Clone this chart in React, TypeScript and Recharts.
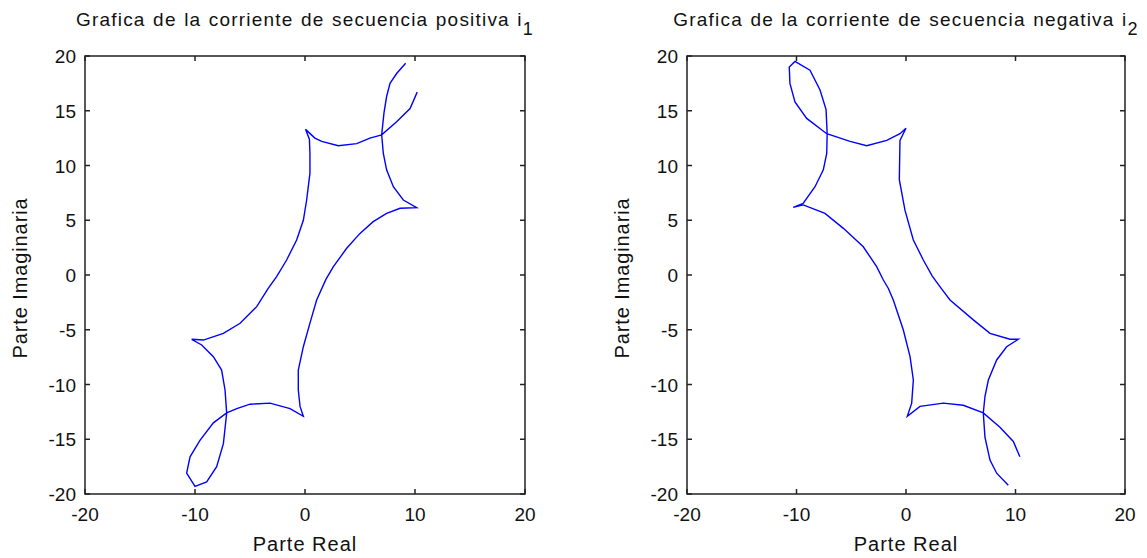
import { LineChart, Line, XAxis, YAxis, ReferenceArea } from 'recharts';

const xTicks = [-20, -10, 0, 10, 20];
const yTicks = [-20, -15, -10, -5, 0, 5, 10, 15, 20];

// secuencia positiva i1 (parte real / parte imaginaria)
const i1Real = [
  9.15, 8.33, 7.73, 7.42, 7.18, 6.97, 7.12, 7.42, 8.03, 8.94, 10.15, 8.64, 7.42, 6.2, 5.0, 3.79, 2.58, 1.9,
  1.06, 0.45, -0.15, -0.61, -0.61, -0.45, -0.15, -1.36, -3.18, -5.0, -6.2, -7.12, -8.33, -9.55, -10.45,
  -10.76, -10.0, -8.94, -8.03, -7.42, -7.12, -7.27, -7.58, -8.33, -9.39, -10.3, -9.24, -7.42, -5.9, -4.39,
  -3.33, -2.58, -1.67, -0.76, -0.15, 0.15, 0.45, 0.45, 0.4, 0.05, 0.9, 1.52, 3.03, 4.7, 5.9, 6.97, 8.33,
  9.55, 10.2,
];
const i1Imag = [
  19.33, 18.4, 17.5, 16.3, 14.8, 12.8, 11.1, 9.6, 8.06, 6.85, 6.15, 6.09, 5.63, 4.87, 3.8, 2.44, 0.76, -0.4,
  -2.28, -4.4, -6.55, -8.68, -10.5, -12.0, -12.9, -12.2, -11.7, -11.8, -12.2, -12.6, -13.5, -15.1, -16.6,
  -18.1, -19.3, -18.9, -17.5, -15.4, -12.6, -10.5, -8.68, -7.46, -6.39, -5.87, -5.94, -5.33, -4.41, -2.89,
  -1.2, -0.15, 1.37, 3.2, 5.0, 6.85, 9.3, 11.1, 12.4, 13.3, 12.5, 12.2, 11.8, 12.0, 12.5, 12.8, 14.0,
  15.2, 16.7,
];

// secuencia negativa i2
const i2Real = [
  9.34, 8.28, 7.67, 7.21, 7.06, 7.21, 7.52, 8.28, 9.19, 10.26, 9.5, 7.67, 6.15, 4.02, 3.2, 2.4, 1.58, 0.67,
  -0.09, -0.61, -0.55, 0.0, -0.55, -1.76, -3.59, -5.11, -7.24, -9.07, -10.14, -10.6, -10.66, -10.14, -8.77,
  -7.85, -7.3, -7.2, -7.24, -7.55, -8.31, -9.38, -10.3, -9.38, -7.4, -5.72, -3.9, -2.68, -2.07, -1.62,
  -1.16, -0.25, 0.37, 0.67, 0.52, 0.12, 1.28, 3.41, 5.23, 7.06, 8.58, 9.8, 10.4,
];
const i2Imag = [
  -19.2, -18.1, -16.9, -14.8, -12.6, -11.1, -9.59, -7.76, -6.55, -5.87, -5.87, -5.33, -4.1, -2.28, -1.2,
  -0.1, 1.37, 3.2, 5.9, 8.7, 12.3, 13.4, 12.9, 12.3, 11.8, 12.2, 12.9, 14.3, 15.8, 17.5, 19.0, 19.5, 18.7,
  16.9, 15.1, 12.9, 11.1, 9.6, 8.06, 6.55, 6.18, 6.4, 5.63, 4.26, 2.58, 0.76, -0.46, -1.21, -2.28, -5.0,
  -7.46, -9.59, -11.7, -12.9, -12.0, -11.7, -11.9, -12.6, -13.9, -15.2, -16.6,
];

const FONT = 'Arial, "Liberation Sans", Helvetica, sans-serif';
const CH_W = 560;
const CH_H = 558;
const TOP = 56;
const BOTTOM = 494;
const Y_AXIS_W = 45;
const X_AXIS_H = 30;

function toPoints(re: number[], im: number[]) {
  return re.map((x, i) => ({ x, y: im[i] }));
}

interface PanelProps {
  left: number;
  marginLeft: number;
  marginRight: number;
  title: string;
  sub: string;
  re: number[];
  im: number[];
}

function Panel({ left, marginLeft, marginRight, title, sub, re, im }: PanelProps) {
  const plotLeft = marginLeft + Y_AXIS_W;
  const plotRight = CH_W - marginRight;
  const centerX = (plotLeft + plotRight) / 2;
  const data = toPoints(re, im);

  // MATLAB style: ticks point inwards, on both sides of the box
  const XTick = ({ x, payload }: any) => (
    <g>
      <line x1={x} x2={x} y1={BOTTOM} y2={BOTTOM - 5} stroke="#222" strokeWidth={1.5} />
      <line x1={x} x2={x} y1={TOP} y2={TOP + 5} stroke="#222" strokeWidth={1.5} />
      <text x={x} y={521} textAnchor="middle" fontSize={19} fontFamily={FONT} fill="#111">
        {payload.value}
      </text>
    </g>
  );

  const YTick = ({ y, payload }: any) => (
    <g>
      <line x1={plotLeft} x2={plotLeft + 5} y1={y} y2={y} stroke="#222" strokeWidth={1.5} />
      <line x1={plotRight} x2={plotRight - 5} y1={y} y2={y} stroke="#222" strokeWidth={1.5} />
      <text x={plotLeft - 9} y={y + 7} textAnchor="end" fontSize={19} fontFamily={FONT} fill="#111">
        {payload.value}
      </text>
    </g>
  );

  return (
    <div style={{ position: 'absolute', left, top: 0, width: CH_W, height: CH_H }}>
      <LineChart
        width={CH_W}
        height={CH_H}
        data={data}
        margin={{ top: TOP, right: marginRight, left: marginLeft, bottom: CH_H - BOTTOM - X_AXIS_H }}
      >
        <XAxis
          dataKey="x"
          type="number"
          domain={[-20, 20]}
          ticks={xTicks}
          tick={<XTick />}
          axisLine={false}
          tickLine={false}
          height={X_AXIS_H}
        />
        <YAxis
          type="number"
          domain={[-20, 20]}
          ticks={yTicks}
          tick={<YTick />}
          axisLine={false}
          tickLine={false}
          width={Y_AXIS_W}
        />
        <ReferenceArea x1={-20} x2={20} y1={-20} y2={20} fill="none" stroke="#222" strokeWidth={1.5} />
        <Line
          dataKey="y"
          type="linear"
          stroke="#0000ff"
          strokeWidth={1.4}
          dot={false}
          activeDot={false}
          isAnimationActive={false}
        />
      </LineChart>

      <div
        style={{
          position: 'absolute',
          top: 10,
          left: centerX,
          transform: 'translateX(-50%)',
          whiteSpace: 'nowrap',
          fontFamily: FONT,
          fontSize: 19,
          lineHeight: '19px',
          letterSpacing: 1.2,
          wordSpacing: 1,
          color: '#111',
        }}
      >
        {title}
        <span style={{ position: 'relative', top: 9, fontSize: 18 }}>{sub}</span>
      </div>

      <div
        style={{
          position: 'absolute',
          top: 534,
          left: centerX,
          transform: 'translateX(-50%)',
          whiteSpace: 'nowrap',
          fontFamily: FONT,
          fontSize: 20,
          lineHeight: '20px',
          letterSpacing: 1,
          color: '#111',
        }}
      >
        Parte Real
      </div>

      <div
        style={{
          position: 'absolute',
          top: (TOP + BOTTOM) / 2 + 3,
          left: plotLeft - 65,
          transform: 'translate(-50%, -50%) rotate(-90deg)',
          whiteSpace: 'nowrap',
          fontFamily: FONT,
          fontSize: 20,
          lineHeight: '20px',
          letterSpacing: 0.9,
          color: '#111',
        }}
      >
        Parte Imaginaria
      </div>
    </div>
  );
}

export default function App() {
  return (
    <div
      style={{
        position: 'absolute',
        left: 0,
        top: 0,
        width: 1147,
        height: 558,
        background: '#fff',
        overflow: 'hidden',
      }}
    >
      <Panel
        left={0}
        marginLeft={40}
        marginRight={35}
        title="Grafica de la corriente de secuencia positiva i"
        sub="1"
        re={i1Real}
        im={i1Imag}
      />
      <Panel
        left={587}
        marginLeft={55}
        marginRight={22}
        title="Grafica de la corriente de secuencia negativa i"
        sub="2"
        re={i2Real}
        im={i2Imag}
      />
    </div>
  );
}
